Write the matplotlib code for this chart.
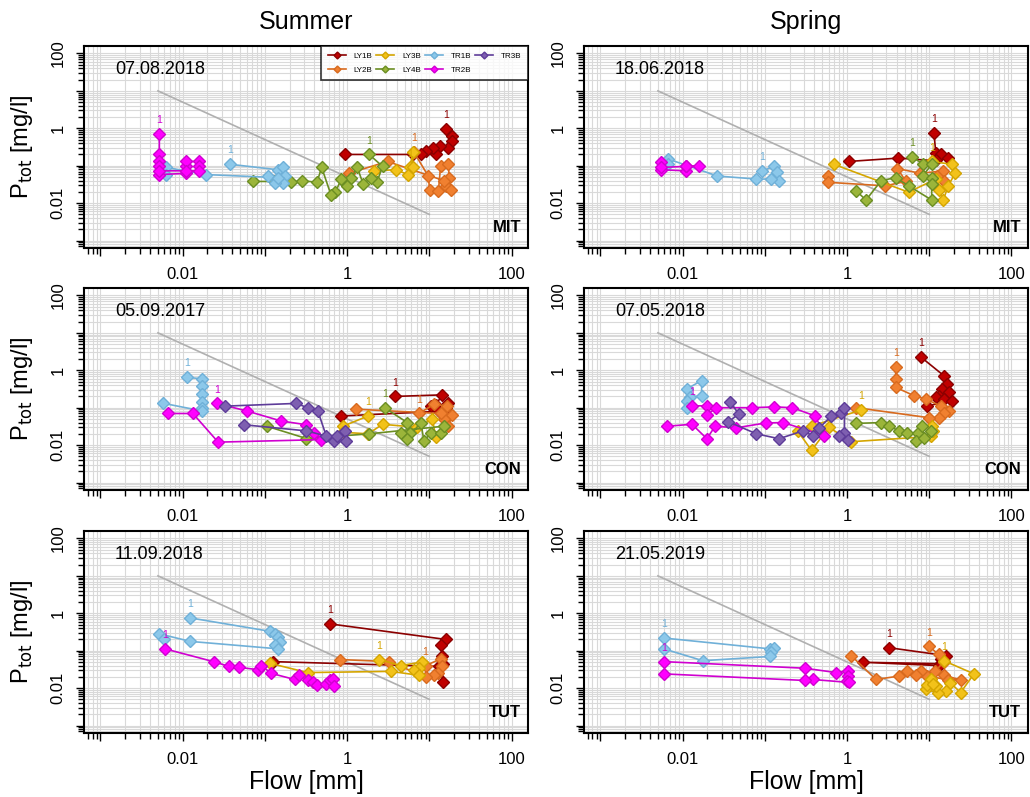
import matplotlib
matplotlib.use("Agg")
import matplotlib.pyplot as plt
from matplotlib.lines import Line2D
from matplotlib.ticker import FixedLocator, LogLocator, FuncFormatter, NullFormatter

plt.rcParams['font.family'] = ['Liberation Sans', 'DejaVu Sans']

# series names and colours (face, edge/line)
SERIES = ["LY1B", "LY2B", "LY3B", "LY4B", "TR1B", "TR2B", "TR3B"]
FACE = {"LY1B": "#C00000", "LY2B": "#F08030", "LY3B": "#F2C21A", "LY4B": "#9BB53A",
        "TR1B": "#8CC8EA", "TR2B": "#FF00FF", "TR3B": "#7E5FB0"}
EDGE = {"LY1B": "#8B0000", "LY2B": "#D86A1E", "LY3B": "#D4A500", "LY4B": "#6B8E23",
        "TR1B": "#6FB0D8", "TR2B": "#D000D0", "TR3B": "#5E3C99"}

COLUMNS = ["Summer", "Spring"]
SITES = ["MIT", "CON", "TUT"]
DATES = [["07.08.2018", "18.06.2018"],
         ["05.09.2017", "07.05.2018"],
         ["11.09.2018", "21.05.2019"]]

# ---- Summer / MIT (flow [mm], P_tot [mg/l]) ----
S_MIT_LY1B = ([16, 19, 18.8, 17, 13.5, 12.2, 11.1, 9.2, 8, 6.3, 0.95],
              [0.94, 0.64, 0.46, 0.30, 0.34, 0.20, 0.30, 0.25, 0.21, 0.20, 0.20])
S_MIT_LY2B = ([6.5, 9.7, 10.1, 12.9, 13.7, 17, 17.5, 16, 18.5, 15, 3.1, 1.05],
              [0.23, 0.053, 0.0225, 0.021, 0.096, 0.109, 0.048, 0.029, 0.0225, 0.04, 0.13, 0.0625])
S_MIT_LY3B = ([5.8, 6.3, 6.3, 5.5, 3.9, 2.1],
              [0.09, 0.23, 0.09, 0.058, 0.078, 0.073])
S_MIT_LY4B = ([1.85, 2.7, 2.3, 1.94, 1.57, 1.33, 1.13, 1.0, 0.85, 0.72, 0.64, 0.49, 0.43, 0.28, 0.21, 0.13, 0.071],
              [0.20, 0.096, 0.036, 0.048, 0.032, 0.09, 0.048, 0.029, 0.044, 0.0196, 0.016, 0.09, 0.036, 0.04, 0.036, 0.038, 0.038])
S_MIT_TR1B = ([0.038, 0.144, 0.166, 0.174, 0.166, 0.131, 0.108, 0.144, 0.019, 0.0063, 0.0063],
              [0.109, 0.078, 0.09, 0.053, 0.035, 0.035, 0.053, 0.048, 0.058, 0.09, 0.058])
S_MIT_TR2B = ([0.0052, 0.0052, 0.0052, 0.0052, 0.0052, 0.011, 0.011, 0.011, 0.016, 0.016, 0.016, 0.011, 0.0052],
              [0.72, 0.20, 0.13, 0.096, 0.058, 0.0625, 0.096, 0.13, 0.13, 0.096, 0.073, 0.073, 0.073])

# ---- Spring / MIT ----
P_MIT_LY1B = ([11.4, 12, 14, 17, 12, 11, 4.2, 1.05],
              [0.74, 0.22, 0.20, 0.16, 0.144, 0.137, 0.16, 0.13])
P_MIT_LY2B = ([0.59, 0.59, 2.9, 5.2, 4.1, 7.8, 14.8, 15, 12.5],
              [0.053, 0.036, 0.029, 0.038, 0.084, 0.0625, 0.073, 0.04, 0.053])
P_MIT_LY3B = ([10.7, 18.8, 20.6, 17, 14.8, 13, 12, 5.6, 0.69],
              [0.13, 0.109, 0.0625, 0.029, 0.0121, 0.0225, 0.044, 0.0196, 0.109])
P_MIT_LY4B = ([6.1, 8.5, 10.7, 8.3, 10.7, 10.7, 10.7, 5.6, 3.9, 2.6, 1.7, 1.3],
              [0.176, 0.109, 0.109, 0.053, 0.048, 0.032, 0.0121, 0.029, 0.048, 0.04, 0.0121, 0.021])
P_MIT_TR1B = ([0.093, 0.13, 0.14, 0.148, 0.12, 0.079, 0.0265, 0.0066, 0.0066],
              [0.073, 0.096, 0.068, 0.04, 0.044, 0.044, 0.053, 0.152, 0.109])
P_MIT_TR2B = ([0.0055, 0.0055, 0.011, 0.011, 0.016, 0.011, 0.0055],
              [0.1225, 0.078, 0.073, 0.096, 0.096, 0.096, 0.09])

# ---- Summer / CON ----
S_CON_LY1B = ([3.8, 14.4, 12, 10.4, 15.8, 17, 13, 0.85],
              [0.20, 0.22, 0.12, 0.11, 0.10, 0.13, 0.08, 0.06])
S_CON_LY2B = ([7.5, 11.4, 16.5, 19, 17, 15, 13.7, 1.29],
              [0.070, 0.124, 0.11, 0.063, 0.032, 0.049, 0.07, 0.091])
S_CON_LY3B = ([1.8, 0.89, 0.89, 1.8, 2.7, 7, 10.9, 12],
              [0.060, 0.032, 0.022, 0.02, 0.036, 0.03, 0.049, 0.016])
S_CON_LY4B = ([2.9, 5.4, 5.9, 4.5, 5.4, 7.9, 8.6, 10.4, 13.7, 15, 1.86, 0.32, 0.105],
              [0.097, 0.040, 0.021, 0.021, 0.015, 0.040, 0.0127, 0.021, 0.021, 0.032, 0.020, 0.015, 0.032])
S_CON_TR1B = ([0.0113, 0.0171, 0.0171, 0.0171, 0.0171, 0.0171, 0.0171, 0.0057],
              [0.65, 0.59, 0.39, 0.23, 0.14, 0.10, 0.082, 0.132])
S_CON_TR2B = ([0.026, 0.060, 0.158, 0.32, 0.40, 0.48, 0.027, 0.0133, 0.0067],
              [0.13, 0.082, 0.044, 0.035, 0.021, 0.014, 0.012, 0.070, 0.070])
S_CON_TR3B = ([0.033, 0.24, 0.33, 0.44, 0.56, 0.70, 0.75, 0.93, 0.97, 0.32, 0.055],
              [0.11, 0.13, 0.10, 0.082, 0.017, 0.0127, 0.017, 0.024, 0.0127, 0.024, 0.035])

# ---- Spring / CON ----
P_CON_LY1B = ([7.9, 15, 16.5, 14.4, 17.3, 13.1, 12, 15, 19, 9.5],
              [2.26, 0.72, 0.43, 0.32, 0.26, 0.21, 0.19, 0.17, 0.153, 0.112])
P_CON_LY2B = ([3.9, 3.9, 3.9, 6.5, 9.0, 13.7, 17.3, 15, 13.1, 9.9, 1.29],
              [1.22, 0.59, 0.35, 0.21, 0.17, 0.112, 0.082, 0.074, 0.054, 0.054, 0.10])
P_CON_LY3B = ([1.48, 0.37, 0.25, 0.37, 0.6, 1.12, 10.4, 11, 10.7],
              [0.087, 0.032, 0.024, 0.0072, 0.03, 0.0123, 0.017, 0.024, 0.032])
P_CON_LY4B = ([1.29, 2.6, 3.25, 4.3, 5.4, 7.2, 8.1, 6.8, 8.6, 10.4],
              [0.038, 0.04, 0.032, 0.024, 0.021, 0.021, 0.032, 0.0127, 0.0159, 0.024])
P_CON_TR1B = ([0.0113, 0.017, 0.017, 0.0124, 0.0113, 0.0113],
              [0.32, 0.53, 0.21, 0.19, 0.153, 0.10])
P_CON_TR2B = ([0.013, 0.0197, 0.0197, 0.0255, 0.070, 0.13, 0.216, 0.41, 0.53, 0.167, 0.102, 0.045, 0.0248, 0.0197, 0.013, 0.0065],
              [0.112, 0.112, 0.063, 0.10, 0.10, 0.105, 0.10, 0.06, 0.018, 0.04, 0.039, 0.029, 0.032, 0.0148, 0.036, 0.032])
P_CON_TR3B = ([0.038, 0.048, 0.036, 0.079, 0.149, 0.29, 0.38, 0.46, 0.645, 0.85, 0.93, 0.93, 1.02, 0.8],
              [0.145, 0.067, 0.042, 0.020, 0.0148, 0.024, 0.018, 0.029, 0.06, 0.074, 0.10, 0.021, 0.014, 0.018])

# ---- Summer / TUT ----
S_TUT_LY1B = ([0.62, 15.8, 13.7, 14.4, 14.6, 14.6, 13, 0.126],
              [0.52, 0.20, 0.145, 0.074, 0.045, 0.0148, 0.038, 0.051])
S_TUT_LY2B = ([9.0, 13.7, 14.4, 12.6, 11.4, 9.0, 3.25, 0.82],
              [0.04, 0.06, 0.04, 0.026, 0.022, 0.02, 0.051, 0.058])
S_TUT_LY3B = ([2.46, 4.5, 8.2, 7.5, 6.5, 7.5, 3.4, 0.33, 0.115],
              [0.058, 0.04, 0.05, 0.035, 0.03, 0.022, 0.028, 0.026, 0.046])
S_TUT_TR1B = ([0.0122, 0.115, 0.132, 0.145, 0.152, 0.132, 0.145, 0.0124, 0.0051, 0.0059],
              [0.755, 0.33, 0.285, 0.23, 0.17, 0.138, 0.112, 0.177, 0.285, 0.21])
S_TUT_TR2B = ([0.0061, 0.0237, 0.0367, 0.048, 0.083, 0.09, 0.12, 0.23, 0.26, 0.33, 0.38, 0.43, 0.56, 0.62, 0.67, 0.70],
              [0.112, 0.051, 0.038, 0.036, 0.031, 0.04, 0.0247, 0.017, 0.022, 0.0166, 0.0148, 0.012, 0.0125, 0.016, 0.018, 0.0115])

# ---- Spring / TUT ----
P_TUT_LY1B = ([3.25, 15.8, 14, 13.5, 1.55, 13],
              [0.12, 0.074, 0.06, 0.045, 0.049, 0.04])
P_TUT_LY2B = ([9.9, 13, 15, 11.9, 15, 24, 17, 9.5, 7.9, 6.8, 5.4, 4.3, 2.24, 1.12],
              [0.13, 0.08, 0.05, 0.029, 0.022, 0.0166, 0.0166, 0.021, 0.029, 0.022, 0.029, 0.021, 0.017, 0.074])
P_TUT_LY3B = ([15, 35, 24, 18, 16, 12.6, 9.0, 12, 9.5, 10.5, 11],
              [0.054, 0.024, 0.0076, 0.014, 0.0085, 0.0075, 0.0093, 0.0115, 0.012, 0.017, 0.013])
P_TUT_TR1B = ([0.0059, 0.115, 0.13, 0.12, 0.115, 0.0176, 0.0059],
              [0.218, 0.112, 0.12, 0.09, 0.07, 0.054, 0.112])
P_TUT_TR2B = ([0.0059, 0.305, 0.74, 1.02, 1.02, 1.0, 1.05, 0.38, 0.305, 0.0059],
              [0.051, 0.034, 0.026, 0.029, 0.021, 0.0157, 0.0142, 0.017, 0.016, 0.024])

PANELS = [
    [{"LY1B": S_MIT_LY1B, "LY2B": S_MIT_LY2B, "LY3B": S_MIT_LY3B, "LY4B": S_MIT_LY4B,
      "TR1B": S_MIT_TR1B, "TR2B": S_MIT_TR2B},
     {"LY1B": P_MIT_LY1B, "LY2B": P_MIT_LY2B, "LY3B": P_MIT_LY3B, "LY4B": P_MIT_LY4B,
      "TR1B": P_MIT_TR1B, "TR2B": P_MIT_TR2B}],
    [{"LY1B": S_CON_LY1B, "LY2B": S_CON_LY2B, "LY3B": S_CON_LY3B, "LY4B": S_CON_LY4B,
      "TR1B": S_CON_TR1B, "TR2B": S_CON_TR2B, "TR3B": S_CON_TR3B},
     {"LY1B": P_CON_LY1B, "LY2B": P_CON_LY2B, "LY3B": P_CON_LY3B, "LY4B": P_CON_LY4B,
      "TR1B": P_CON_TR1B, "TR2B": P_CON_TR2B, "TR3B": P_CON_TR3B}],
    [{"LY1B": S_TUT_LY1B, "LY2B": S_TUT_LY2B, "LY3B": S_TUT_LY3B,
      "TR1B": S_TUT_TR1B, "TR2B": S_TUT_TR2B},
     {"LY1B": P_TUT_LY1B, "LY2B": P_TUT_LY2B, "LY3B": P_TUT_LY3B,
      "TR1B": P_TUT_TR1B, "TR2B": P_TUT_TR2B}],
]

# series whose start marker "1" is not visible
NO_START = {(0, 1): ["LY2B", "TR2B"], (1, 0): ["TR3B"], (1, 1): ["TR1B", "TR3B", "LY4B"]}

# reference line
REF_Q = [0.005, 10]
REF_P = [10, 0.005]

LIM = (10 ** -3.2, 10 ** 2.2)
COL_LEFT = [0.0816, 0.567]
ROW_BOTTOM = [0.6888, 0.3852, 0.0803]
AX_W, AX_H = 0.431, 0.2535


def fmt(v, pos):
    return {0.01: "0.01", 1.0: "1", 100.0: "100"}.get(round(v, 6), "")


def style_axis(ax):
    ax.set_xscale("log")
    ax.set_yscale("log")
    ax.set_xlim(LIM)
    ax.set_ylim(LIM)
    decades = [10.0 ** k for k in range(-3, 3)]
    for axis in (ax.xaxis, ax.yaxis):
        axis.set_major_locator(FixedLocator(decades))
        axis.set_major_formatter(FuncFormatter(fmt))
        axis.set_minor_locator(LogLocator(base=10, subs=range(2, 10), numticks=20))
        axis.set_minor_formatter(NullFormatter())
    ax.grid(True, which="both", color="#d9d9d9", lw=0.8)
    ax.set_axisbelow(True)
    ax.tick_params(which="major", direction="out", length=5.5, width=1, color="black")
    ax.tick_params(which="minor", direction="out", length=4, width=1, color="black")
    ax.tick_params(axis="x", labelsize=12, pad=8)
    ax.tick_params(axis="y", labelsize=12, pad=8, labelrotation=90)
    for lab in ax.get_yticklabels():
        lab.set_va("center")
    for sp in ax.spines.values():
        sp.set_linewidth(1.5)


fig = plt.figure(figsize=(10.3, 7.97), dpi=100)

for r in range(3):
    for c in range(2):
        ax = fig.add_axes([COL_LEFT[c], ROW_BOTTOM[r], AX_W, AX_H])
        style_axis(ax)
        ax.plot(REF_Q, REF_P, color="#b0b0b0", lw=1.2, zorder=2)
        hidden = NO_START.get((r, c), [])
        for name in SERIES:
            if name not in PANELS[r][c]:
                continue
            q, p = PANELS[r][c][name]
            ax.plot(q, p, color=EDGE[name], lw=1.2, marker="D", ms=6.5,
                    mfc=FACE[name], mec=EDGE[name], mew=1.0, zorder=3)
            if name not in hidden:
                ax.annotate("1", (q[0], p[0]), xytext=(0, 10), textcoords="offset points",
                            ha="center", va="center", fontsize=7.5,
                            color=EDGE[name], zorder=4)
        ax.text(0.07, 0.885, DATES[r][c], transform=ax.transAxes, fontsize=13,
                ha="left", va="center")
        ax.text(0.985, 0.1, SITES[r], transform=ax.transAxes, fontsize=12,
                fontweight="bold", ha="right", va="center")
        if r == 0 and c == 0:
            handles = [Line2D([], [], color=EDGE[n], lw=1.2, marker="D", ms=3.5,
                              mfc=FACE[n], mec=EDGE[n]) for n in SERIES]
            leg = ax.legend(handles, SERIES, loc="upper right", ncol=4, fontsize=5.8,
                            frameon=True, fancybox=False, borderaxespad=0,
                            handlelength=2.2, columnspacing=0.5, handletextpad=1.0,
                            labelspacing=0.75, borderpad=0.8)
            leg.get_frame().set_edgecolor("black")
            leg.get_frame().set_linewidth(1.2)
            leg.set_zorder(10)

for c, title in enumerate(COLUMNS):
    fig.text(COL_LEFT[c] + AX_W / 2, 0.972, title, ha="center", va="center", fontsize=18)
for r in range(3):
    fig.text(0.021, ROW_BOTTOM[r] + AX_H / 2, r"P$_{\mathrm{tot}}$ [mg/l]", rotation=90,
             ha="center", va="center", fontsize=17)
for c in range(2):
    fig.text(COL_LEFT[c] + AX_W / 2, 0.019, "Flow [mm]", ha="center", va="center", fontsize=18)

fig.savefig("out.png", dpi=100)
